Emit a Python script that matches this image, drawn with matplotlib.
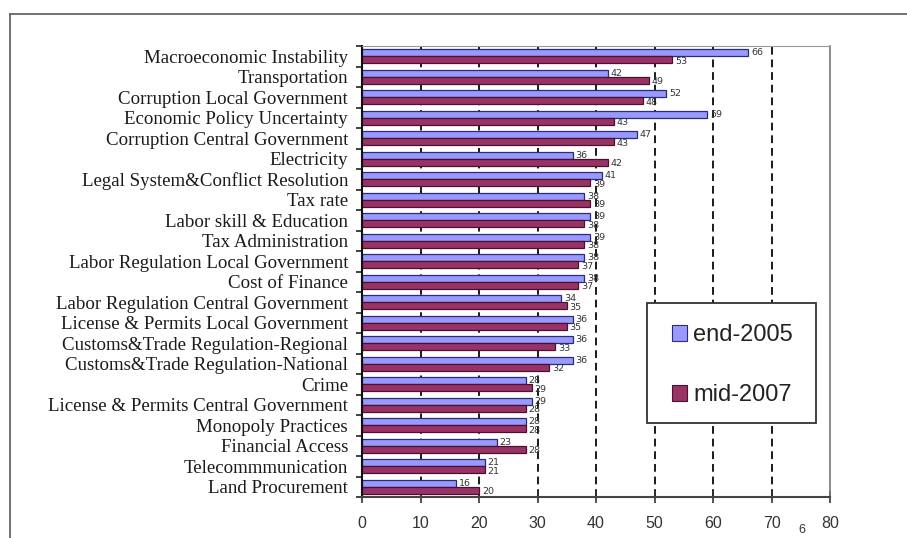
import matplotlib
matplotlib.use("Agg")
import matplotlib.pyplot as plt
import numpy as np
from matplotlib.patches import Patch, Rectangle
from matplotlib.lines import Line2D

categories = [
    "Macroeconomic Instability",
    "Transportation",
    "Corruption Local Government",
    "Economic Policy Uncertainty",
    "Corruption Central Government",
    "Electricity",
    "Legal System&Conflict Resolution",
    "Tax rate",
    "Labor skill & Education",
    "Tax Administration",
    "Labor Regulation Local Government",
    "Cost of Finance",
    "Labor Regulation Central Government",
    "License & Permits Local Government",
    "Customs&Trade Regulation-Regional",
    "Customs&Trade Regulation-National",
    "Crime",
    "License & Permits Central Government",
    "Monopoly Practices",
    "Financial Access",
    "Telecommmunication",
    "Land Procurement",
]
end_2005 = [66, 42, 52, 59, 47, 36, 41, 38, 39, 39, 38, 38, 34, 36, 36, 36, 28, 29, 28, 23, 21, 16]
mid_2007 = [53, 49, 48, 43, 43, 42, 39, 39, 38, 38, 37, 37, 35, 35, 33, 32, 29, 28, 28, 28, 21, 20]
series_names = ["end-2005", "mid-2007"]
x_ticks = [0, 10, 20, 30, 40, 50, 60, 70, 80]

blue_fill, blue_edge = "#9999FF", "#2B2B7A"
red_fill, red_edge = "#993366", "#4A1030"

W, H = 907, 538
fig = plt.figure(figsize=(W / 100, H / 100), dpi=100)
ax = fig.add_axes([362 / W, 1 - 497 / H, (830 - 362) / W, (497 - 46) / H])

n = len(categories)
y = np.arange(n)
h = 0.33

# dashed reference lines behind the bars
for v in x_ticks[1:-1]:
    ax.axvline(v, color="#1a1a1a", lw=1.4, ls=(0, (4, 2.5)), zorder=0)

ax.barh(y - h / 2, end_2005, height=h, color=blue_fill, edgecolor=blue_edge, lw=0.9, zorder=2)
ax.barh(y + h / 2, mid_2007, height=h, color=red_fill, edgecolor=red_edge, lw=0.9, zorder=2)

for yi, v in zip(y, end_2005):
    ax.text(v + 0.5, yi - h / 2, str(v), fontsize=6.8, color="#333333", va="center", ha="left",
            family="DejaVu Sans", zorder=3)
for yi, v in zip(y, mid_2007):
    ax.text(v + 0.5, yi + h / 2 + 0.08, str(v), fontsize=6.8, color="#333333", va="center", ha="left",
            family="DejaVu Sans", zorder=3)

ax.set_xlim(0, 80)
ax.set_ylim(n - 0.5, -0.5)
ax.set_xticks(x_ticks)
ax.set_xticklabels([str(t) for t in x_ticks], fontsize=11.5, color="#333333", family="Liberation Sans")
ax.tick_params(axis="x", direction="inout", length=9, width=1.2, color="#333333", pad=9)

ax.set_yticks(y)
ax.set_yticklabels(categories, fontsize=13.6, family="Liberation Serif", color="#1a1a1a")
ax.tick_params(axis="y", which="major", length=0, pad=10)
ax.set_yticks(np.arange(n + 1) - 0.5, minor=True)
ax.tick_params(axis="y", which="minor", direction="out", length=4, width=1.2, color="#222222")

ax.spines["left"].set_color("#111111")
ax.spines["left"].set_linewidth(1.5)
ax.spines["bottom"].set_color("#444444")
ax.spines["bottom"].set_linewidth(1.5)
ax.spines["top"].set_color("#999999")
ax.spines["right"].set_color("#777777")
ax.spines["right"].set_linewidth(1.2)

# legend: entries without frame, plus a separate box around them
handles = [Patch(facecolor=blue_fill, edgecolor=blue_edge, lw=0.8),
           Patch(facecolor=red_fill, edgecolor=red_edge, lw=0.8)]
leg = fig.legend(handles, series_names, loc="upper left",
                 bbox_to_anchor=(672 / W, 1 - 324 / H),
                 prop={"family": "Liberation Sans", "size": 17},
                 frameon=False, borderpad=0, labelspacing=1.62,
                 handlelength=0.65, handleheight=0.65, handletextpad=0.25,
                 borderaxespad=0)
for t in leg.get_texts():
    t.set_color("#222222")
fig.add_artist(Rectangle((647 / W, 1 - 423 / H), (816 - 647) / W, (423 - 303) / H,
                         transform=fig.transFigure, facecolor="white", edgecolor="#333333",
                         lw=1.3, zorder=2.5))
leg.set_zorder(3)

# page frame lines and page number
fig.add_artist(Line2D([10 / W, 1], [1 - 14 / H] * 2, color="#666666", lw=1.3))
fig.add_artist(Line2D([10 / W] * 2, [0, 1 - 14 / H], color="#666666", lw=1.3))
fig.text(802 / W, 1 - 530 / H, "6", fontsize=9, color="#333333", ha="center", va="center",
         family="Liberation Sans")

fig.savefig("out.png", dpi=100, facecolor="white")
